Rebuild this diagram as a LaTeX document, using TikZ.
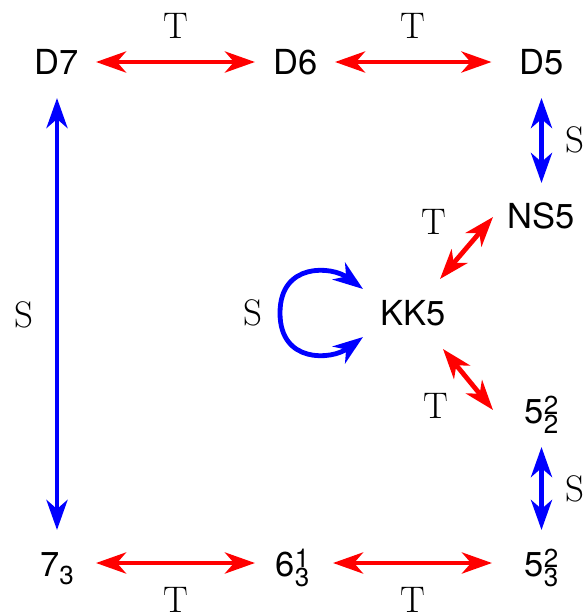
\documentclass[tikz,border=0pt]{standalone}
\usepackage{fontspec}
\setsansfont{TeX Gyre Heros}
\usetikzlibrary{arrows.meta,calc}
\definecolor{tred}{RGB}{255,0,0}
\definecolor{sblue}{RGB}{0,0,255}
\newcommand\scrsz{\fontsize{26}{26}\selectfont}
\newcommand\upsub[3]{#1\rlap{\raisebox{9pt}{\scrsz #2}}\raisebox{-10pt}{\scrsz #3}}
\newcommand\onlysub[2]{#1\raisebox{-8pt}{\scrsz #2}}
\begin{document}
\begin{tikzpicture}[x=1pt,y=-1pt,
  nd/.style={inner sep=0pt,anchor=base,font=\fontsize{34.5}{40}\selectfont\sffamily},
  lab/.style={inner sep=0pt,font=\fontsize{37}{42}\selectfont\rmfamily},
  tarr/.style={draw=tred,line width=4.8pt,{Stealth[length=30pt,width=21pt,inset=9pt]}-{Stealth[length=30pt,width=21pt,inset=9pt]},fill=tred},
  sarr/.style={draw=sblue,line width=4.8pt,{Stealth[length=30pt,width=21pt,inset=9pt]}-{Stealth[length=30pt,width=21pt,inset=9pt]}},
]
\useasboundingbox (0,0) rectangle (588,616);
% nodes (placed at their baselines)
\node[nd] (D7) at (57,74) {D7};
\node[nd] (D6) at (296,74) {D6};
\node[nd] (D5) at (541.5,74) {D5};
\node[nd] (NS5) at (541.5,228) {NS5};
\node[nd] (KK5) at (413,325) {KK5};
\node[nd] (P22) at (541.5,423) {\upsub{5}{2}{2}};
\node[nd] (S73) at (57,576) {\onlysub{7}{3}};
\node[nd] (S631) at (292.5,576) {\upsub{6}{1}{3}};
\node[nd] (S532) at (541.5,576) {\upsub{5}{2}{3}};
% T arrows
\draw[tarr] ($(D7.base)+(39,-12)$) -- ($(D6.base)+(-41,-12)$);
\draw[tarr] ($(D6.base)+(39,-12)$) -- ($(D5.base)+(-50,-12)$);
\draw[tarr] ($(NS5.base)+(-48.5,-11)$) -- ($(KK5.base)+(27,-46)$);
\draw[tarr] ($(KK5.base)+(30,24)$) -- ($(P22.base)+(-48.5,-13)$);
\draw[tarr] ($(S73.base)+(39,-13)$) -- ($(S631.base)+(-37.5,-13)$);
\draw[tarr] ($(S631.base)+(40.5,-13)$) -- ($(S532.base)+(-49.5,-13)$);
% S arrows
\draw[sarr] ($(D7.base)+(0,24)$) -- ($(S73.base)+(0,-46)$);
\draw[sarr] ($(D5.base)+(0,24)$) -- ($(NS5.base)+(0,-45)$);
\draw[sarr] ($(P22.base)+(0,24)$) -- ($(S532.base)+(0,-46)$);
\draw[sarr] ($(KK5.base)+(-50,-36)$) .. controls ($(KK5.base)+(-81,-59)$) and ($(KK5.base)+(-133,-63)$) .. ($(KK5.base)+(-133,-12)$)
  .. controls ($(KK5.base)+(-133,39)$) and ($(KK5.base)+(-81,35)$) .. ($(KK5.base)+(-50,12)$);
% labels
\node[lab] (lt1) at (175.5,26) {T};
\node[lab] (lt2) at (413,26) {T};
\node[lab] (lt3) at (176,600) {T};
\node[lab] (lt4) at (413,600) {T};
\node[lab] (lt5) at (434,222) {T};
\node[lab] (lt6) at (435.5,405.5) {T};
\node[lab] (ls1) at (24,315) {S};
\node[lab] (ls2) at (575,140) {S};
\node[lab] (ls3) at (574.5,489) {S};
\node[lab] (ls4) at (253,313) {S};
\end{tikzpicture}
\end{document}
